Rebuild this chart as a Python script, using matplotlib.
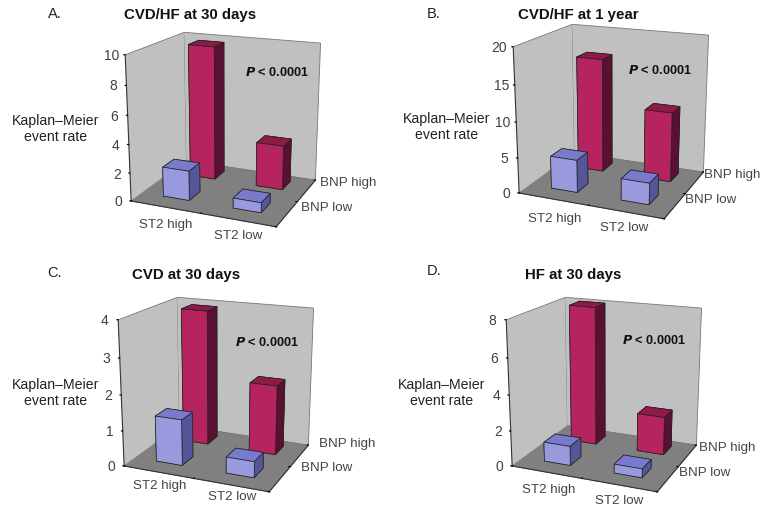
import matplotlib
matplotlib.use('Agg')
import numpy as np
import matplotlib.pyplot as plt

plt.rcParams['font.family'] = ['Liberation Sans', 'DejaVu Sans']

W, H = 768, 516

# bar heights, one list per panel: [ST2 high, ST2 low]
a_bnp_low = [2.1, 0.7]
a_bnp_high = [9.7, 3.2]
b_bnp_low = [4.6, 3.0]
b_bnp_high = [16.5, 10.0]
c_bnp_low = [1.3, 0.45]
c_bnp_high = [3.9, 2.0]
d_bnp_low = [1.1, 0.5]
d_bnp_high = [8.0, 2.2]

z_max = [10, 20, 4, 8]
z_ticks = [[0, 2, 4, 6, 8, 10], [0, 5, 10, 15, 20], [0, 1, 2, 3, 4], [0, 2, 4, 6, 8]]
titles = ['CVD/HF at 30 days', 'CVD/HF at 1 year', 'CVD at 30 days', 'HF at 30 days']
letters = ['A.', 'B.', 'C.', 'D.']

# centre of each 3D box in pixels
centres = [(222, 126), (610, 118), (215, 391), (603, 391)]
title_xy = [(190, 15), (578, 15), (186, 275), (573, 275)]
letter_xy = [(55, 14), (434, 14), (55, 273), (434, 271)]
p_xy = [(277, 73), (660, 71), (267, 343), (654, 340)]
ylabel_xy = [(56, 129), (447, 127), (56, 393), (442, 393)]
st2_high_xy = [(166, 225), (555, 219), (160, 486), (549, 490)]
st2_low_xy = [(238, 236), (624, 228), (232, 497), (619, 501)]
bnp_high_xy = [(348, 183), (732, 175), (347, 444), (727, 448)]
bnp_low_xy = [(327, 208), (711, 200), (327, 468), (705, 473)]

BLUE = ['#9999dd', '#7a7acc', '#9999dd', '#9999dd', '#9999dd', '#55559a']
RED = ['#b5245f', '#8e1a48', '#b5245f', '#b5245f', '#b5245f', '#5a1030']


def px(x, y):
    return x / W, 1 - y / H


def draw_panel(i, low, high):
    size = 330
    cx, cy = centres[i]
    left, bottom = px(cx - size / 2, cy + size / 2)
    ax = fig.add_axes([left, bottom, size / W, size / H], projection='3d',
                      proj_type='persp', focal_length=0.42)
    ax.patch.set_alpha(0)
    ax.view_init(elev=17.2, azim=-67)
    ax.set_box_aspect((1.36, 1.12, 1.32), zoom=0.726)
    top = z_max[i]
    ax.set_xlim(0, 2)
    ax.set_ylim(0, 2)
    ax.set_zlim(0, top)
    ax.grid(False)
    ax.xaxis.set_pane_color('#c0c0c0')
    ax.yaxis.set_pane_color('#c0c0c0')
    ax.zaxis.set_pane_color('#808080')
    for axis in (ax.xaxis, ax.yaxis, ax.zaxis):
        axis.pane.set_edgecolor('#777777')
        axis.pane.set_linewidth(0.6)
        axis.line.set_color('#333333')
        axis.line.set_linewidth(0.8)
        axis._axinfo['tick']['inward_factor'] = 0
        axis._axinfo['tick']['outward_factor'] = 0.12
        axis._axinfo['tick']['color'] = '#333333'
    ax.set_xticks([0, 1, 2])
    ax.set_yticks([0, 1, 2])
    ax.set_xticklabels([])
    ax.set_yticklabels([])
    ax.set_zticks(z_ticks[i])
    ax.zaxis.set_ticks_position('lower')
    # z ticks and labels run along x, so they sit level with the tick
    ax.zaxis._get_tickdir = lambda pos: 0
    ax.tick_params(axis='z', labelsize=10, labelcolor='#404040', pad=0)
    for label in ax.get_zticklabels():
        label.set_va('center')

    # back row first, far bars behind near ones
    for yc, values, colors in ((1.58, high, RED), (0.58, low, BLUE)):
        for xc, v in zip((0.5, 1.5), values):
            ax.bar3d(xc - 0.19, yc - 0.2, 0, 0.38, 0.40, v, color=colors,
                     shade=False, edgecolor='#222222', linewidth=0.5)

    fig.text(*px(*title_xy[i]), titles[i], fontsize=10.8, fontweight='bold',
             ha='center', va='center', color='#111111')
    fig.text(*px(*letter_xy[i]), letters[i], fontsize=10.5, ha='center', va='center',
             color='#222222')
    fig.text(*px(*p_xy[i]), r'$\bfit{P}$ < 0.0001', fontsize=9.2, fontweight='bold',
             ha='center', va='center', color='#111111')
    fig.text(*px(*ylabel_xy[i]), 'Kaplan–Meier\nevent rate', fontsize=10.2, ha='center',
             va='center', color='#222222', linespacing=1.25)
    fig.text(*px(*st2_high_xy[i]), 'ST2 high', fontsize=9.6, ha='center', va='center', color='#444444')
    fig.text(*px(*st2_low_xy[i]), 'ST2 low', fontsize=9.6, ha='center', va='center', color='#444444')
    fig.text(*px(*bnp_high_xy[i]), 'BNP high', fontsize=9.6, ha='center', va='center', color='#444444')
    fig.text(*px(*bnp_low_xy[i]), 'BNP low', fontsize=9.6, ha='center', va='center', color='#444444')


fig = plt.figure(figsize=(W / 100, H / 100), dpi=100, facecolor='white')
draw_panel(0, a_bnp_low, a_bnp_high)
draw_panel(1, b_bnp_low, b_bnp_high)
draw_panel(2, c_bnp_low, c_bnp_high)
draw_panel(3, d_bnp_low, d_bnp_high)
fig.savefig('out.png', dpi=100)
